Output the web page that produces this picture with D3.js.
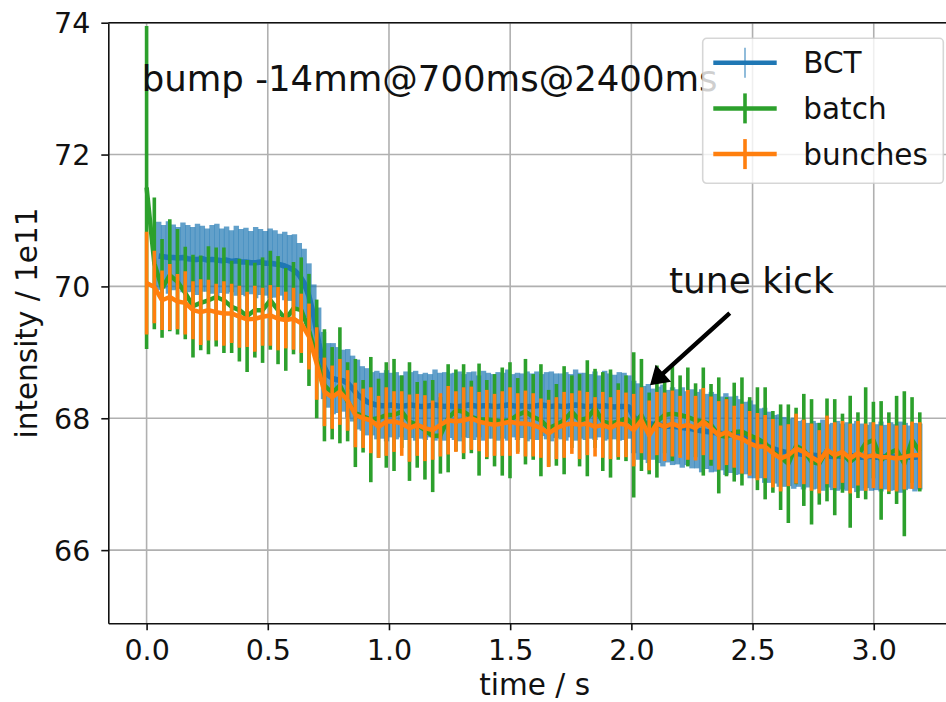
<!DOCTYPE html>
<html>
<head>
<meta charset="utf-8">
<script src="https://cdn.jsdelivr.net/npm/d3@7"></script>
<style>
body{margin:0;background:#fff}
svg{display:block;font-family:"DejaVu Sans",sans-serif}
</style>
</head>
<body>
<svg width="946" height="702"></svg>
<script>
// BCT: sampled every 0.02 s starting at 0.05 s
var bctStart = 0.05, bctStep = 0.02;
var bctMean = [
70.46,70.45,70.44,70.44,70.43,70.44,70.42,70.41,70.41,70.42,
70.40,70.41,70.40,70.39,70.40,70.38,70.39,70.37,70.37,70.36,
70.36,70.37,70.35,70.35,70.34,70.33,70.31,70.28,70.24,70.17,
70.05,69.85,69.55,69.15,68.80,68.65,68.60,68.58,68.57,68.53,
68.45,68.36,68.30,68.25,68.22,68.20,68.19,68.19,68.20,68.19,
68.18,68.19,68.20,68.19,68.18,68.18,68.19,68.20,68.19,68.18,
68.19,68.18,68.18,68.19,68.20,68.19,68.18,68.19,68.19,68.18,
68.18,68.19,68.20,68.19,68.18,68.19,68.18,68.18,68.19,68.20,
68.19,68.18,68.19,68.18,68.18,68.19,68.20,68.19,68.18,68.18,
68.19,68.18,68.19,68.18,68.17,68.18,68.18,68.17,68.02,67.95,
67.93,67.92,67.91,67.90,67.89,67.88,67.88,67.87,67.86,67.85,
67.84,67.82,67.81,67.80,67.79,67.78,67.77,67.76,67.75,67.74,
67.72,67.70,67.68,67.65,67.62,67.59,67.56,67.53,67.51,67.49,
67.48,67.47,67.46,67.45,67.44,67.44,67.43,67.44,67.43,67.42,
67.43,67.42,67.42,67.43,67.42,67.41,67.42,67.42,67.41,67.42,
67.41,67.42,67.41,67.41,67.42,67.41,67.41,67.42];
var bctErr = [
.52,.48,.55,.50,.47,.53,.51,.49,.54,.50,.48,.52,.55,.49,.51,.47,.53,.50,.52,.48,
.54,.50,.49,.53,.51,.47,.52,.50,.55,.49,.52,.50,.48,.53,.51,.49,.54,.50,.47,.52,
.50,.53,.49,.51,.48,.52,.50,.54,.49,.51,.47,.52,.50,.53,.49,.51,.48,.54,.50,.52,
.49,.51,.53,.48,.50,.52,.47,.53,.50,.49,.52,.50,.54,.48,.51,.49,.53,.50,.52,.47,
.51,.53,.49,.50,.52,.48,.54,.50,.51,.49,.52,.47,.53,.50,.49,.52,.51,.48,.55,.58,
.56,.60,.54,.58,.62,.55,.59,.57,.61,.56,.60,.58,.63,.57,.61,.59,.56,.62,.58,.60,
.57,.55,.59,.56,.53,.57,.54,.52,.55,.53,.51,.54,.50,.53,.49,.52,.50,.54,.48,.51,
.53,.50,.52,.49,.54,.51,.48,.52,.50,.53,.49,.52,.50,.54,.51,.48,.52,.50];

// batch and bunches: one point per 0.0319 s starting at 0
var bunchStep = 0.0319;
var batchMean = [
71.50,70.35,69.97,70.17,70.07,69.90,69.70,69.75,69.79,69.84,
69.79,69.69,69.64,69.55,69.64,69.64,69.79,69.64,69.50,69.67,
69.64,69.34,68.90,68.50,68.38,68.50,68.25,68.08,68.03,67.98,
68.00,68.05,68.05,68.10,67.95,67.90,67.82,67.73,67.74,68.00,
68.12,68.10,68.02,67.98,67.98,67.97,67.95,67.97,68.05,68.10,
68.02,67.97,67.85,67.90,67.97,68.10,67.97,68.00,68.15,67.95,
67.92,67.95,68.00,67.90,68.05,67.77,67.95,68.05,68.07,68.05,
68.02,67.97,67.95,67.90,67.74,67.72,67.79,67.80,67.74,67.69,
67.62,67.49,67.41,67.31,67.58,67.52,67.34,67.31,67.52,67.41,
67.47,67.34,67.44,67.62,67.67,67.36,67.47,67.52,67.31,67.67,
67.49];
var batchErr = [
2.45,1.00,.75,.85,.80,.70,.78,.72,.82,.75,
.80,.70,.78,.85,.72,.80,.75,.82,.78,.70,
.80,.85,.90,.85,.70,.88,.60,.82,.55,.95,
.60,.80,.85,.55,.90,.65,.75,.85,.58,.82,
.62,.72,.55,.85,.60,.70,.82,.88,.56,.80,
.65,.85,.58,.62,.82,.55,.70,.88,.60,.75,
.82,.58,.65,1.10,.85,.62,.85,.58,.72,.60,
.75,.56,.82,.62,.88,.60,.75,.82,.58,.78,
.85,.62,.80,.90,.58,.85,.95,.62,.78,.88,
.60,1.00,.65,.85,.58,.90,.62,.82,1.10,.65,
.60];
var bunchesMean = [
70.05,69.99,69.79,69.84,69.77,69.75,69.64,69.61,69.64,69.61,
69.59,69.59,69.54,69.50,69.51,69.54,69.56,69.51,69.49,69.51,
69.44,69.24,68.83,68.40,68.32,68.40,68.27,68.05,68.00,67.97,
67.87,67.95,67.95,67.92,67.85,67.90,67.85,67.82,67.90,67.97,
67.95,67.97,68.00,67.95,67.92,67.90,67.92,67.95,67.92,67.92,
67.90,67.85,67.77,67.85,67.90,67.92,67.90,67.92,67.87,67.90,
67.85,67.92,67.90,67.82,67.97,67.74,67.92,67.87,67.92,67.87,
67.90,67.85,67.95,67.85,67.74,67.79,67.72,67.69,67.62,67.57,
67.57,67.47,67.39,67.44,67.54,67.49,67.41,67.34,67.52,67.44,
67.49,67.39,67.47,67.41,67.44,67.41,67.41,67.39,67.41,67.44,
67.44];
var bunchesErr = [
.78,.55,.45,.50,.42,.48,.44,.50,.46,.43,
.49,.45,.47,.42,.50,.44,.46,.48,.43,.47,
.45,.50,.55,.52,.48,.50,.46,.49,.45,.50,
.47,.52,.46,.49,.51,.47,.50,.45,.48,.52,
.46,.50,.48,.45,.51,.47,.49,.52,.46,.50,
.48,.45,.51,.47,.50,.46,.52,.48,.45,.50,
.47,.51,.49,.55,.50,.53,.48,.52,.50,.47,
.53,.49,.51,.48,.52,.50,.47,.53,.49,.51,
.48,.52,.50,.47,.53,.49,.51,.48,.52,.50,
.47,.53,.49,.51,.50,.48,.52,.50,.49,.51,
.50];

var xTicks = [0, 0.5, 1, 1.5, 2, 2.5, 3];
var yTicks = [66, 68, 70, 72, 74];
var seriesNames = ["BCT", "batch", "bunches"];
var seriesColors = ["#1f77b4", "#2ca02c", "#ff7f0e"];

var svg = d3.select('svg');
var margin = {top: 22.7, left: 108.3};
var width = 852.7, height = 600.6;
var g = svg.append('g')
  .attr("transform", `translate(${margin.left},${margin.top})`);

var x = d3.scaleLinear().domain([-0.158, 3.36]).range([0, width]);
var y = d3.scaleLinear().domain([64.89, 74]).range([height, 0]);

// grid
g.append("g").selectAll("line").data(xTicks).enter().append("line")
  .attr("x1", d => x(d)).attr("x2", d => x(d))
  .attr("y1", 0).attr("y2", height)
  .attr("stroke", "#b0b0b0").attr("stroke-width", 1.6);
g.append("g").selectAll("line").data(yTicks).enter().append("line")
  .attr("y1", d => y(d)).attr("y2", d => y(d))
  .attr("x1", 0).attr("x2", width)
  .attr("stroke", "#b0b0b0").attr("stroke-width", 1.6);

g.append("clipPath").attr("id", "plot")
  .append("rect").attr("width", width).attr("height", height);
var plot = g.append("g").attr("clip-path", "url(#plot)");

function toPoints(start, step, means, errs) {
  return means.map((m, i) => ({t: start + i * step, m: m, e: errs[i]}));
}
var bct = toPoints(bctStart, bctStep, bctMean, bctErr);
var batch = toPoints(0, bunchStep, batchMean, batchErr);
var bunches = toPoints(0, bunchStep, bunchesMean, bunchesErr);

var line = d3.line().x(d => x(d.t)).y(d => y(d.m));

function drawSeries(pts, color, barWidth, barOpacity, lineWidth) {
  plot.append("g").selectAll("line").data(pts).enter().append("line")
    .attr("x1", d => x(d.t)).attr("x2", d => x(d.t))
    .attr("y1", d => y(d.m - d.e)).attr("y2", d => y(d.m + d.e))
    .attr("stroke", color).attr("stroke-width", barWidth)
    .attr("stroke-opacity", barOpacity);
  plot.append("path").datum(pts)
    .attr("d", line)
    .attr("fill", "none").attr("stroke", color)
    .attr("stroke-width", lineWidth).attr("stroke-linejoin", "round");
}
drawSeries(bct, seriesColors[0], 5.4, 0.7, 5.5);
drawSeries(batch, seriesColors[1], 3.6, 1, 4.5);
drawSeries(bunches, seriesColors[2], 3.6, 1, 4.5);

// axes
var fs = "28.5px";
var xAxis = g.append("g")
  .attr("transform", "translate(0," + height + ")")
  .call(d3.axisBottom(x).tickValues(xTicks).tickFormat(d3.format(".1f")).tickSize(7).tickSizeOuter(0));
xAxis.selectAll("text").attr("y", 37).attr("dy", null);
var yAxis = g.append("g")
  .call(d3.axisLeft(y).tickValues(yTicks).tickFormat(d3.format("d")).tickSize(7).tickSizeOuter(0));
yAxis.selectAll("text").attr("x", -18).attr("dy", "0.36em");
[xAxis, yAxis].forEach(a => {
  a.selectAll("text").attr("font-size", fs).attr("font-family", "DejaVu Sans").attr("fill", "#111");
  a.selectAll("line").attr("stroke", "#111").attr("stroke-width", 1.6);
  a.select(".domain").attr("stroke", "#111").attr("stroke-width", 1.6);
});
g.append("line").attr("x1", 0).attr("x2", width).attr("y1", 0).attr("y2", 0)
  .attr("stroke", "#111").attr("stroke-width", 1.6);
g.append("line").attr("x1", width).attr("x2", width).attr("y1", 0).attr("y2", height)
  .attr("stroke", "#111").attr("stroke-width", 1.6);

g.append("text")
  .attr("x", width / 2).attr("y", height + 71.5)
  .attr("text-anchor", "middle").attr("font-size", "29.5px").attr("fill", "#111")
  .text("time / s");
g.append("text")
  .attr("transform", `translate(${-71.5},${height / 2}) rotate(-90)`)
  .attr("text-anchor", "middle").attr("font-size", "29.5px").attr("fill", "#111")
  .text("intensity / 1e11");

// annotations
g.append("text")
  .attr("x", x(-0.02)).attr("y", y(72.97))
  .attr("font-size", "35.5px").attr("fill", "#111")
  .text("bump -14mm@700ms@2400ms");
g.append("text")
  .attr("x", x(2.155)).attr("y", y(69.9))
  .attr("font-size", "36px").attr("fill", "#111")
  .text("tune kick");

var tail = [x(2.406), y(69.595)], tip = [x(2.077), y(68.50)];
var dx = tip[0] - tail[0], dy = tip[1] - tail[1], len = Math.hypot(dx, dy);
var ux = dx / len, uy = dy / len, nx = -uy, ny = ux;
var sw = 2.2, hw = 11.5, hl = 18;
var bx = tip[0] - ux * hl, by = tip[1] - uy * hl;
var arrowPts = [
  [tail[0] + nx * sw, tail[1] + ny * sw],
  [bx + nx * sw, by + ny * sw],
  [bx + nx * hw, by + ny * hw],
  tip,
  [bx - nx * hw, by - ny * hw],
  [bx - nx * sw, by - ny * sw],
  [tail[0] - nx * sw, tail[1] - ny * sw]
];
g.append("path").attr("d", "M" + arrowPts.join("L") + "Z").attr("fill", "#000");

// legend
var legend = svg.append("g").attr("transform", "translate(702.7,38.3)");
legend.append("rect")
  .attr("width", 240.6).attr("height", 145).attr("rx", 4)
  .attr("fill", "#fff").attr("fill-opacity", 0.8)
  .attr("stroke", "#ccc").attr("stroke-opacity", 0.8).attr("stroke-width", 1.6);
var rows = legend.selectAll("g.row").data(seriesNames).enter().append("g")
  .attr("transform", (d, i) => `translate(0,${24.4 + i * 45.7})`);
rows.append("line")
  .attr("x1", 10.6).attr("x2", 74).attr("y1", 0).attr("y2", 0)
  .attr("stroke", (d, i) => seriesColors[i]).attr("stroke-width", 4.5);
rows.append("line")
  .attr("x1", 42.3).attr("x2", 42.3).attr("y1", -15).attr("y2", 15)
  .attr("stroke", (d, i) => seriesColors[i])
  .attr("stroke-width", (d, i) => i === 0 ? 1.6 : 3.6)
  .attr("stroke-opacity", (d, i) => i === 0 ? 0.62 : 1);
rows.append("text")
  .attr("x", 100.6).attr("y", 10.4)
  .attr("font-size", "29.5px").attr("fill", "#111")
  .text(d => d);
</script>
</body>
</html>
